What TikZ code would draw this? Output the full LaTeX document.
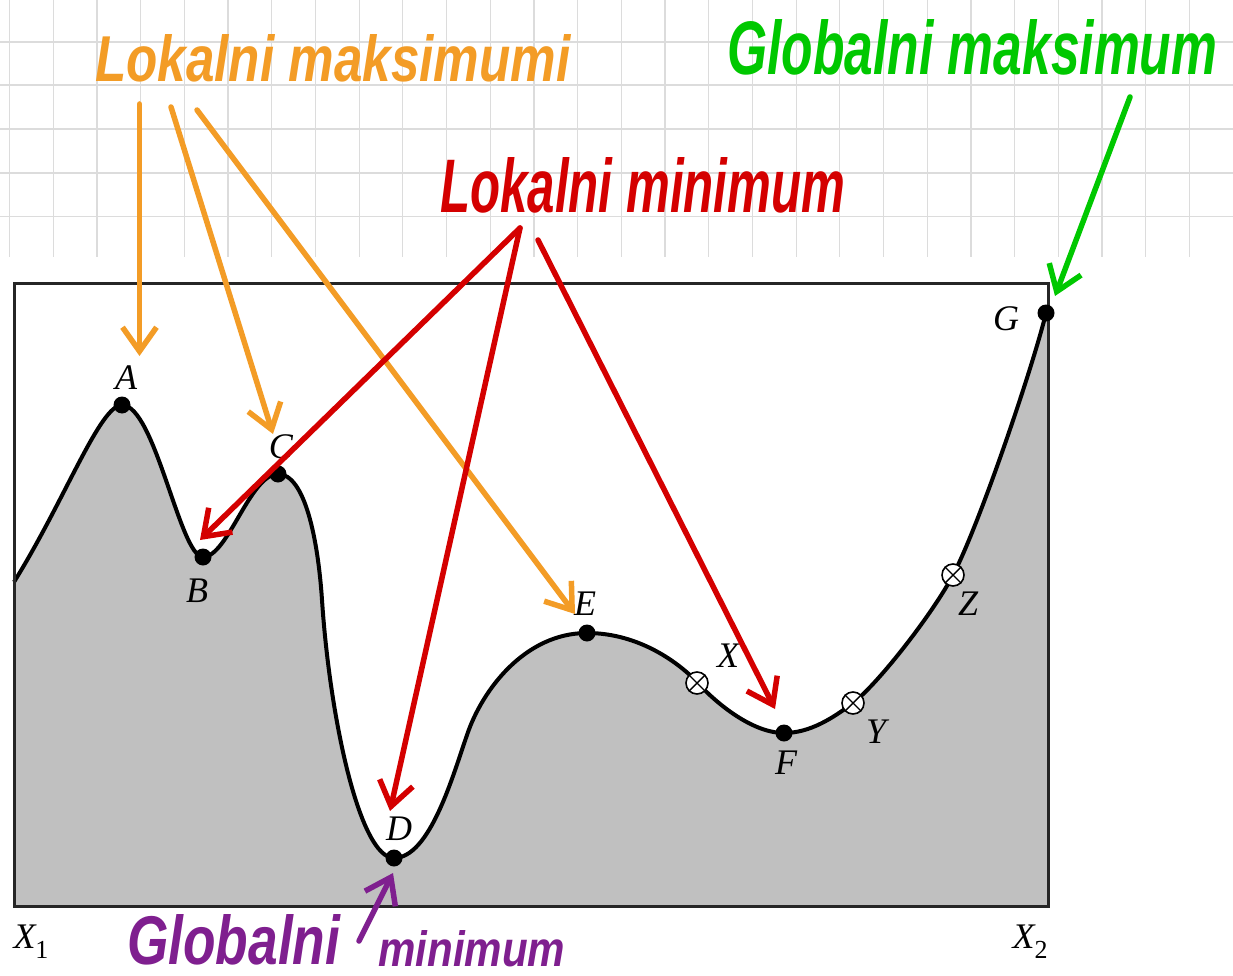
\documentclass[tikz,border=0pt]{standalone}
\usepackage{fontspec}
\usepackage{graphicx}
\setmainfont{Liberation Serif}
\newfontfamily\handfont{Liberation Sans}
\usetikzlibrary{arrows.meta}
\definecolor{gridc}{HTML}{DCDCDC}
\definecolor{fillg}{HTML}{C0C0C0}
\definecolor{orangec}{HTML}{F39C26}
\definecolor{redc}{HTML}{D40000}
\definecolor{greenc}{HTML}{00C800}
\definecolor{purplec}{HTML}{7F1F8F}
\tikzset{
  dot/.style={circle,fill=black,inner sep=0pt,minimum size=17pt},
  xdot/.style={circle,draw=black,line width=1.6pt,fill=white,inner sep=0pt,minimum size=22pt},
  lab/.style={font=\fontsize{36}{38}\selectfont\itshape,inner sep=0pt},
  hand/.style={anchor=base west,inner sep=0pt,font=\handfont\bfseries\itshape},
  harrow/.style={line width=5.5pt,line cap=round,line join=round,
    -{Straight Barb[length=24pt,width=34pt,line width=5.5pt]}},
  curve/.style={line width=4pt},
}
\def\curvepath{(14,582) .. controls (65,500) and (100,405) .. (122,405)
  .. controls (155,405) and (180,557) .. (203,557)
  .. controls (228,557) and (250,474) .. (278,474)
  .. controls (305,474) and (318,540) .. (322,600)
  .. controls (330,720) and (360,858) .. (394,858)
  .. controls (430,858) and (453,775) .. (467,735)
  .. controls (482,690) and (525,633) .. (587,633)
  .. controls (640,633) and (680,664) .. (697,682)
  .. controls (712,699) and (750,733) .. (784,733)
  .. controls (810,733) and (833,718) .. (853,703)
  .. controls (880,682) and (935,610) .. (953,575)
  .. controls (978,528) and (1032,370) .. (1046,313)}
\begin{document}
\begin{tikzpicture}[x=1pt,y=-1pt]
\useasboundingbox (0,0) rectangle (1233,976);
\fill[white] (0,0) rectangle (1233,976);
% grid
\foreach \i in {0,...,27} {
  \draw[gridc,line width=1.2pt] ({9.5+43.7*\i},0) -- ({9.5+43.7*\i},257);
}
\foreach \j in {0,...,4} {
  \draw[gridc,line width=1.8pt] (0,{41.7+43.7*\j}) -- (1233,{41.7+43.7*\j});
}
% graph
\fill[fillg] \curvepath -- (1048,313) -- (1048,906) -- (14,906) -- cycle;
\draw[curve] \curvepath;
\draw[line width=3pt,draw=black!85] (14,283) rectangle (1048,906);
% points
\node[dot] (A) at (122,405) {};
\node[dot] (B) at (203,557) {};
\node[dot] (C) at (278,474) {};
\node[dot] (D) at (394,858) {};
\node[dot] (E) at (587,633) {};
\node[dot] (F) at (784,733) {};
\node[dot] (G) at (1046,313) {};
\node[xdot] (X) at (697,683) {};
\node[xdot] (Y) at (853,703) {};
\node[xdot] (Z) at (953,575) {};
\foreach \n in {X,Y,Z} {
  \draw[line width=1.4pt] (\n.north east) -- (\n.south west);
  \draw[line width=1.4pt] (\n.north west) -- (\n.south east);
}
% labels
\node[lab] (lA) at (126,378) {A};
\node[lab] (lB) at (197,591) {B};
\node[lab] (lC) at (281,447) {C};
\node[lab] (lD) at (399,829) {D};
\node[lab] (lE) at (585,604) {E};
\node[lab] (lF) at (786,763) {F};
\node[lab] (lG) at (1006,319) {G};
\node[lab] (lX) at (728,656) {X};
\node[lab] (lY) at (876,732) {Y};
\node[lab] (lZ) at (968,604) {Z};
\node[lab] (lX1) at (31,942) {X\raisebox{-0.28em}{\upshape\fontsize{26}{28}\selectfont 1}};
\node[lab] (lX2) at (1030,942) {X\raisebox{-0.28em}{\upshape\fontsize{26}{28}\selectfont 2}};
% handwritten titles
\node[hand,text=orangec] (tmax) at (95,82) {\resizebox{475pt}{47pt}{Lokalni maksimumi}};
\node[hand,text=greenc] (tgmax) at (727,75) {\resizebox{490pt}{55pt}{Globalni maksimum}};
\node[hand,text=redc] (tmin) at (440,213) {\resizebox{405pt}{55pt}{Lokalni minimum}};
\node[hand,text=purplec] (tgmin1) at (127,964) {\resizebox{213pt}{50pt}{Globalni}};
\node[hand,text=purplec] (tgmin2) at (378,966) {\resizebox{187pt}{36pt}{minimum}};
% arrow coordinates
\coordinate (o1s) at (139.5,104);
\coordinate (o1e) at (139.5,356);
\coordinate (o2s) at (171,107);
\coordinate (o2e) at (273,434);
\coordinate (o3s) at (197,110);
\coordinate (o3e) at (575,614);
\coordinate (r0) at (520,228);
\coordinate (rB) at (200,540);
\coordinate (rD) at (390,811);
\coordinate (r1) at (538,240);
\coordinate (rF) at (775,709);
\coordinate (g0) at (1130,97);
\coordinate (gG) at (1055,296);
\coordinate (p0) at (359,941);
\coordinate (pD) at (393,873);
\draw[harrow,orangec] (o1s) -- (o1e);
\draw[harrow,orangec] (o2s) -- (o2e);
\draw[harrow,orangec] (o3s) -- (o3e);
\draw[harrow,redc] (r0) -- (rB);
\draw[harrow,redc] (r0) -- (rD);
\draw[harrow,redc] (r1) -- (rF);
\draw[harrow,greenc] (g0) -- (gG);
\draw[harrow,purplec] (p0) -- (pD);
\end{tikzpicture}
\end{document}
